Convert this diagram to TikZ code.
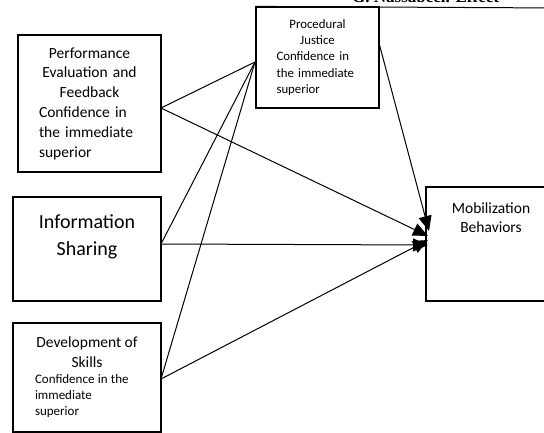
\documentclass[tikz,border=0pt]{standalone}
\usepackage{fontspec}
\setmainfont{Carlito}
\newfontfamily\hdrfont{Liberation Serif}
\usetikzlibrary{arrows.meta}
\tikzset{
  box/.style={draw, line width=1.2pt, rectangle, inner sep=0pt},
  conn/.style={line width=1pt},
  arr/.style={line width=1pt, -{Triangle[length=15pt,width=13pt]}},
  txt/.style={inner sep=0pt}
}
\begin{document}
\begin{tikzpicture}[x=1pt,y=-1pt]
\clip (0,0) rectangle (544,433);
\useasboundingbox (0,0) rectangle (544,433);
% header (clipped at the top edge, as in the reference)
\node[txt, anchor=base west, font=\hdrfont\bfseries\fontsize{17}{19}\selectfont] (hdr) at (352,2.5) {G. Nassabeel. Effect};
\coordinate (ruleR) at (560,8);
% boxes
\node[box, minimum width=143pt, minimum height=137pt, text width=101pt,
      font=\fontsize{15.5}{19.8}\selectfont] (A) at (89.5,103.5)
  {{\centering Performance\\Evaluation and\\Feedback\par}\raggedright Confidence in\\the immediate\\superior\par};
\node[box, minimum width=148pt, minimum height=104pt] (B) at (87,249) {};
\node[txt, align=center, font=\fontsize{20}{27}\selectfont] (Bt) at (87,236.5) {Information\\Sharing};
\node[box, minimum width=148pt, minimum height=109pt, text width=104pt] (C) at (87,377.5)
  {{\fontsize{15.5}{20}\selectfont\centering Development of\\Skills\par}{\fontsize{13}{16}\selectfont\raggedright Confidence in the\\immediate\\superior\par}};
\node[box, minimum width=123pt, minimum height=101pt, text width=82pt,
      font=\fontsize{12.8}{16.2}\selectfont] (D) at (317.5,57.5)
  {{\centering Procedural\\Justice\par}\raggedright Confidence in\\the immediate\\superior\par};
\node[box, minimum width=130pt, minimum height=114pt] (E) at (491,244) {};
\node[txt, align=center, font=\fontsize{15.5}{19}\selectfont] (Et) at (491,217.5) {Mobilization\\Behaviors};
% header rule
\draw[line width=1pt] (D.north west) -- (ruleR);
% connection points
\coordinate (pA) at (161,108);
\coordinate (pB) at (161,244);
\coordinate (pC) at (161,379);
\coordinate (pDl) at (255,62);
\coordinate (pDr) at (379,43);
\coordinate (eA) at (428,236);
\coordinate (eB) at (428,245);
\coordinate (eC) at (428,240);
\coordinate (eD) at (429,231);
% connectors
\draw[conn] (pA) -- (pDl);
\draw[conn] (pB) -- (pDl);
\draw[conn] (pC) -- (pDl);
\draw[arr] (pA) -- (eA);
\draw[arr] (pB) -- (eB);
\draw[arr] (pC) -- (eC);
\draw[arr] (pDr) -- (eD);
\end{tikzpicture}
\end{document}
